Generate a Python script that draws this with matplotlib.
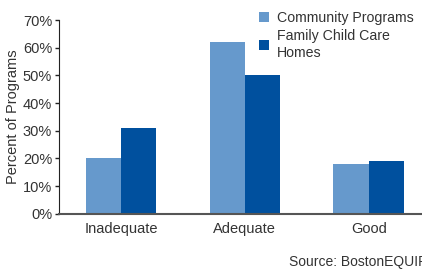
import numpy as np
import matplotlib
matplotlib.use("Agg")
import matplotlib.pyplot as plt

categories = ["Inadequate", "Adequate", "Good"]
community = [20, 62, 18]
family = [31, 50, 19]
series_names = ["Community Programs", "Family Child Care\nHomes"]

light = "#6699cc"
dark = "#00509e"
txt = "#333333"

plt.rcParams["font.family"] = ["Liberation Sans", "DejaVu Sans"]

fig = plt.figure(figsize=(4.22, 2.70), dpi=100)
ax = fig.add_axes([59 / 422, (270 - 213.7) / 270, 1 - 59 / 422, (213.7 - 20) / 270])

x = np.arange(len(categories))
w = 0.285
ax.bar(x - w / 2, community, w, color=light, label=series_names[0])
ax.bar(x + w / 2, family, w, color=dark, label=series_names[1])

ax.set_xlim(-0.5, 2.43)
ax.set_ylim(0, 70)
ax.set_yticks(range(0, 71, 10))
ax.set_yticklabels([f"{v}%" for v in range(0, 71, 10)], fontsize=10.5, color=txt)
ax.set_xticks(x)
ax.set_xticklabels(categories, fontsize=10.5, color=txt)
ax.tick_params(axis="x", length=0, pad=6)
ax.tick_params(axis="y", length=3, width=1, color="#222222", pad=2)

for s in ["top", "right"]:
    ax.spines[s].set_visible(False)
ax.spines["left"].set_color("#222222")
ax.spines["bottom"].set_color("#555555")
ax.spines["bottom"].set_linewidth(1.5)

ax.set_ylabel("Percent of Programs", fontsize=10.5, color=txt, labelpad=2)

ax.legend(loc="upper left", bbox_to_anchor=(0.535, 1.075), frameon=False,
          fontsize=10.2, handlelength=0.7, handleheight=0.7, handletextpad=0.6,
          labelspacing=0.3, borderaxespad=0, labelcolor=txt)

fig.text(289 / 422, 1 - 262 / 270, "Source: BostonEQUIP", fontsize=10, color=txt,
         va="center", ha="left")

fig.savefig("out.png", dpi=100)
